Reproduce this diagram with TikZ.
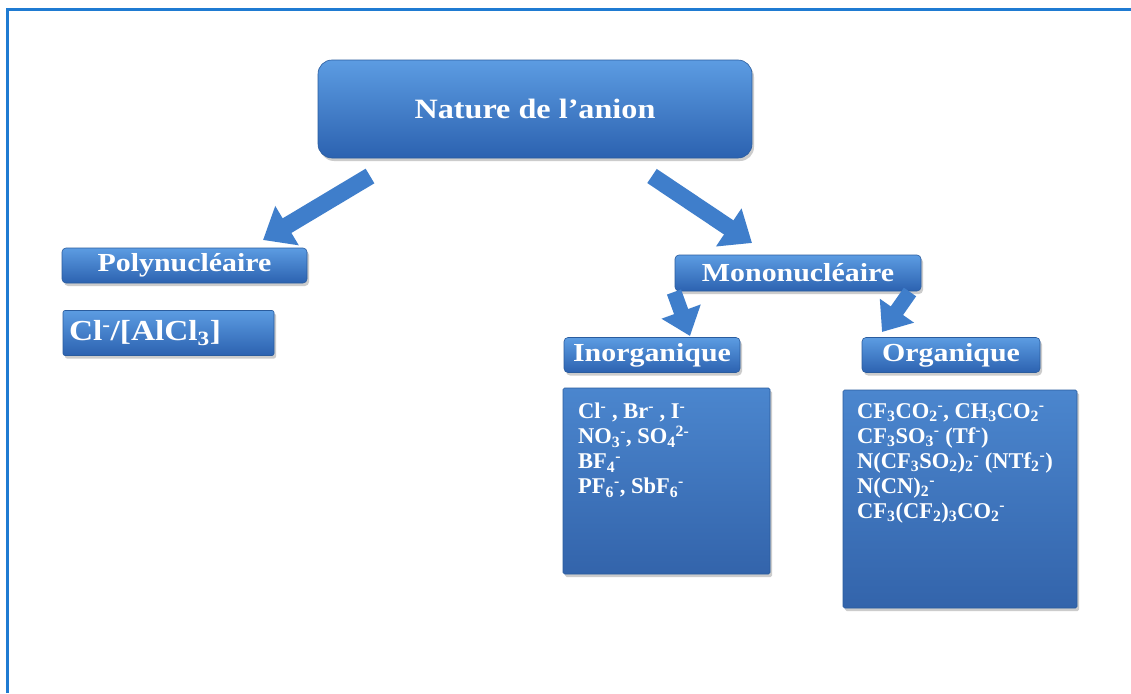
\documentclass[tikz,border=0pt]{standalone}
\usepackage{fontspec}
\setmainfont{Liberation Serif}
\newfontfamily\lblfont[FakeStretch=1.15]{Liberation Serif}
\usetikzlibrary{shadows,arrows.meta}
\definecolor{frameblue}{HTML}{1F7BD2}
\definecolor{boxtop}{HTML}{5C9CE2}
\definecolor{boxbot}{HTML}{2C62B0}
\definecolor{boxline}{HTML}{2A5C9E}
\definecolor{arrowblue}{HTML}{3F7ECB}
\definecolor{listtop}{HTML}{4B86CE}
\definecolor{listbot}{HTML}{3364AB}
\newcommand\lo[1]{\textsubscript{#1}}
\newcommand\hi[1]{\textsuperscript{#1}}
\begin{document}
\begin{tikzpicture}[x=1pt,y=-1pt,
  blbox/.style={draw=boxline, line width=0.6pt, top color=boxtop, bottom color=boxbot,
    rounded corners=4pt, drop shadow={opacity=0.4, shadow xshift=2pt, shadow yshift=-3pt},
    inner sep=0pt, text=white, font=\lblfont\bfseries\fontsize{26}{30}\selectfont},
  listbox/.style={draw=boxline, line width=0.6pt, top color=listtop, bottom color=listbot,
    rounded corners=1.5pt, drop shadow={opacity=0.4, shadow xshift=2pt, shadow yshift=-3pt},
    inner sep=0pt},
  listtxt/.style={text=white, align=left, inner sep=0pt, anchor=north west,
    font=\bfseries\fontsize{22.5}{25}\selectfont},
  blockarrow/.style={draw=arrowblue, line width=17pt, -{Triangle[width=44pt,length=28pt]}},
  smallarrow/.style={draw=arrowblue, line width=15pt, -{Triangle[width=40pt,length=26pt]}}
]
\useasboundingbox (0,0) rectangle (1131,693);
\fill[white] (0,0) rectangle (1131,693);
\draw[frameblue, line width=3pt] (7,693) -- (7,10) -- (1131,10);

% boxes
\node[blbox, minimum width=434pt, minimum height=98pt, rounded corners=14pt,
  font=\lblfont\bfseries\fontsize{28}{32}\selectfont] (title) at (535,109) {Nature de l’anion};
\node[blbox, minimum width=245pt, minimum height=35pt] (poly) at (184.5,265.5) {Polynucléaire};
\node[blbox, minimum width=211pt, minimum height=45pt, rounded corners=2pt,
  text width=199pt, align=left, font=\lblfont\bfseries\fontsize{29}{32}\selectfont] (alcl) at (168.5,333) {Cl\hi{-}/[AlCl\lo{3}]};
\node[blbox, minimum width=246pt, minimum height=36pt] (mono) at (798,273) {Mononucléaire};
\node[blbox, minimum width=176pt, minimum height=35pt] (inorg) at (652,355) {Inorganique};
\node[blbox, minimum width=178pt, minimum height=35pt] (org) at (951,355) {Organique};
\node[listbox, minimum width=207pt, minimum height=186pt] (inorglist) at (666.5,481) {};
\node[listbox, minimum width=234pt, minimum height=218pt] (orglist) at (960,499) {};

\node[listtxt] (inorgtxt) at (578,403) {Cl\hi{-} , Br\hi{-} , I\hi{-}\\
  NO\lo{3}\hi{-}, SO\lo{4}\hi{2-}\\
  BF\lo{4}\hi{-}\\
  PF\lo{6}\hi{-}, SbF\lo{6}\hi{-}};
\node[listtxt] (orgtxt) at (857,403) {CF\lo{3}CO\lo{2}\hi{-}, CH\lo{3}CO\lo{2}\hi{-}\\
  CF\lo{3}SO\lo{3}\hi{-} (Tf\hi{-})\\
  N(CF\lo{3}SO\lo{2})\lo{2}\hi{-} (NTf\lo{2}\hi{-})\\
  N(CN)\lo{2}\hi{-}\\
  CF\lo{3}(CF\lo{2})\lo{3}CO\lo{2}\hi{-}};

% arrows
\coordinate (a1s) at (370,176);
\coordinate (a1e) at (263,240);
\coordinate (a2s) at (652,176);
\coordinate (a2e) at (752,243);
\coordinate (a3s) at (674,292);
\coordinate (a3e) at (690,336);
\coordinate (a4s) at (910,292);
\coordinate (a4e) at (882,332);
\draw[blockarrow] (a1s) -- (a1e);
\draw[blockarrow] (a2s) -- (a2e);
\draw[smallarrow] (a3s) -- (a3e);
\draw[smallarrow] (a4s) -- (a4e);
\end{tikzpicture}
\end{document}
